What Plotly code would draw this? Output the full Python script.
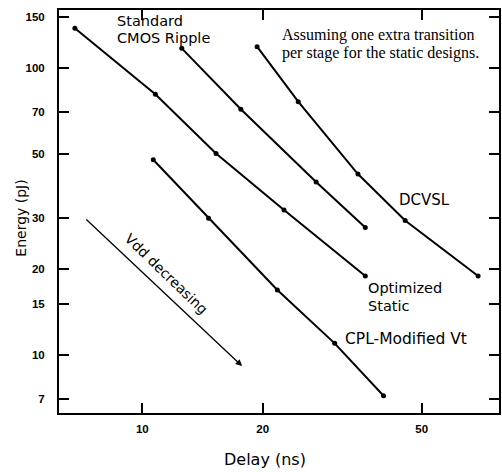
import numpy as np
import plotly.graph_objects as go

# ---- data (Delay in ns, Energy in pJ) ----
long_delay = [6.78, 10.78, 15.29, 22.62, 36.13]
long_energy = [137.5, 81.0, 50.4, 32.0, 18.85]

ripple_delay = [12.55, 17.64, 27.22, 36.13]
ripple_energy = [117.1, 71.8, 40.07, 27.8]

dcvsl_delay = [19.37, 24.55, 34.63, 45.45, 69.2]
dcvsl_energy = [118.7, 76.3, 42.7, 29.4, 18.85]

cpl_delay = [10.65, 14.65, 21.77, 30.29, 40.13]
cpl_energy = [47.9, 29.95, 16.85, 10.98, 7.21]

arrow_delay = [7.18, 17.77]     # start, tip
arrow_energy = [30.0, 9.15]

x_ticks = [10, 20, 50]
y_ticks = [7, 10, 15, 20, 30, 50, 70, 100, 150]

series = [
    ("Optimized Static", long_delay, long_energy),
    ("Standard CMOS Ripple", ripple_delay, ripple_energy),
    ("DCVSL", dcvsl_delay, dcvsl_energy),
    ("CPL-Modified Vt", cpl_delay, cpl_energy),
]

fig = go.Figure()
for name, xs, ys in series:
    fig.add_trace(go.Scatter(
        x=xs, y=ys, name=name, mode="lines+markers",
        line=dict(color="black", width=2),
        marker=dict(color="black", size=5),
        showlegend=False,
    ))

SANS = "DejaVu Sans"
tickfont = dict(family="Liberation Sans", size=11.5, color="black", weight="bold")

fig.update_xaxes(
    type="log", range=[0.7915, 1.8924],
    tickvals=x_ticks, ticktext=[str(v) for v in x_ticks],
    ticks="inside", ticklen=10, tickwidth=1.5, tickcolor="black",
    showline=True, linewidth=2, linecolor="black", mirror="ticks",
    showgrid=False, zeroline=False, tickfont=tickfont, ticklabelstandoff=4,
)
fig.update_yaxes(
    type="log", range=[0.7979, 2.2021],
    tickvals=y_ticks, ticktext=[str(v) for v in y_ticks],
    ticks="inside", ticklen=10, tickwidth=1.5, tickcolor="black",
    showline=True, linewidth=2, linecolor="black", mirror="ticks",
    showgrid=False, zeroline=False, tickfont=tickfont, ticklabelstandoff=10,
)

def lbl(text, x, y, size=15, family=SANS, xanchor="left", angle=0, color="black"):
    fig.add_annotation(text=text, x=x, y=y, xref="paper", yref="paper",
                       xanchor=xanchor, yanchor="middle", showarrow=False,
                       textangle=angle, borderpad=0,
                       font=dict(family=family, size=size, color=color))

lbl("Standard", 0.129, 0.9727, size=14.5)
lbl("CMOS Ripple", 0.129, 0.9293, size=14.5)
lbl("Assuming one extra transition", 0.5045, 0.938, size=16, family="Liberation Serif")
lbl("per stage for the static designs.", 0.5045, 0.8926, size=16, family="Liberation Serif")
lbl("DCVSL", 0.7715, 0.5285)
lbl("Optimized", 0.6998, 0.3102, size=14.5)
lbl("Static", 0.6998, 0.2667, size=14.5)
lbl("CPL-Modified Vt", 0.6486, 0.1836, size=15.5)
lbl("Vdd decreasing", 0.2443, 0.3449, size=14, xanchor="center", angle=44)
lbl("Energy (pJ)", -0.0882, 0.4826, size=14, xanchor="center", angle=-90)
lbl("Delay (ns)", 0.4672, -0.1166, size=16, xanchor="center")

# Vdd decreasing arrow
fig.add_annotation(
    x=np.log10(arrow_delay[1]), y=np.log10(arrow_energy[1]),
    ax=np.log10(arrow_delay[0]), ay=np.log10(arrow_energy[0]),
    xref="x", yref="y", axref="x", ayref="y",
    showarrow=True, arrowhead=2, arrowsize=1, arrowwidth=1.3,
    arrowcolor="black", text="",
)

fig.update_layout(
    width=502, height=472,
    margin=dict(l=59, r=1, t=10, b=59),
    paper_bgcolor="white", plot_bgcolor="white",
    font=dict(family=SANS, color="black"),
)

fig.write_html(
    "out.html",
    config={"displayModeBar": False},
    post_script="document.body.style.margin='0';document.body.style.padding='0';"
                "document.body.style.overflow='hidden';",
)
